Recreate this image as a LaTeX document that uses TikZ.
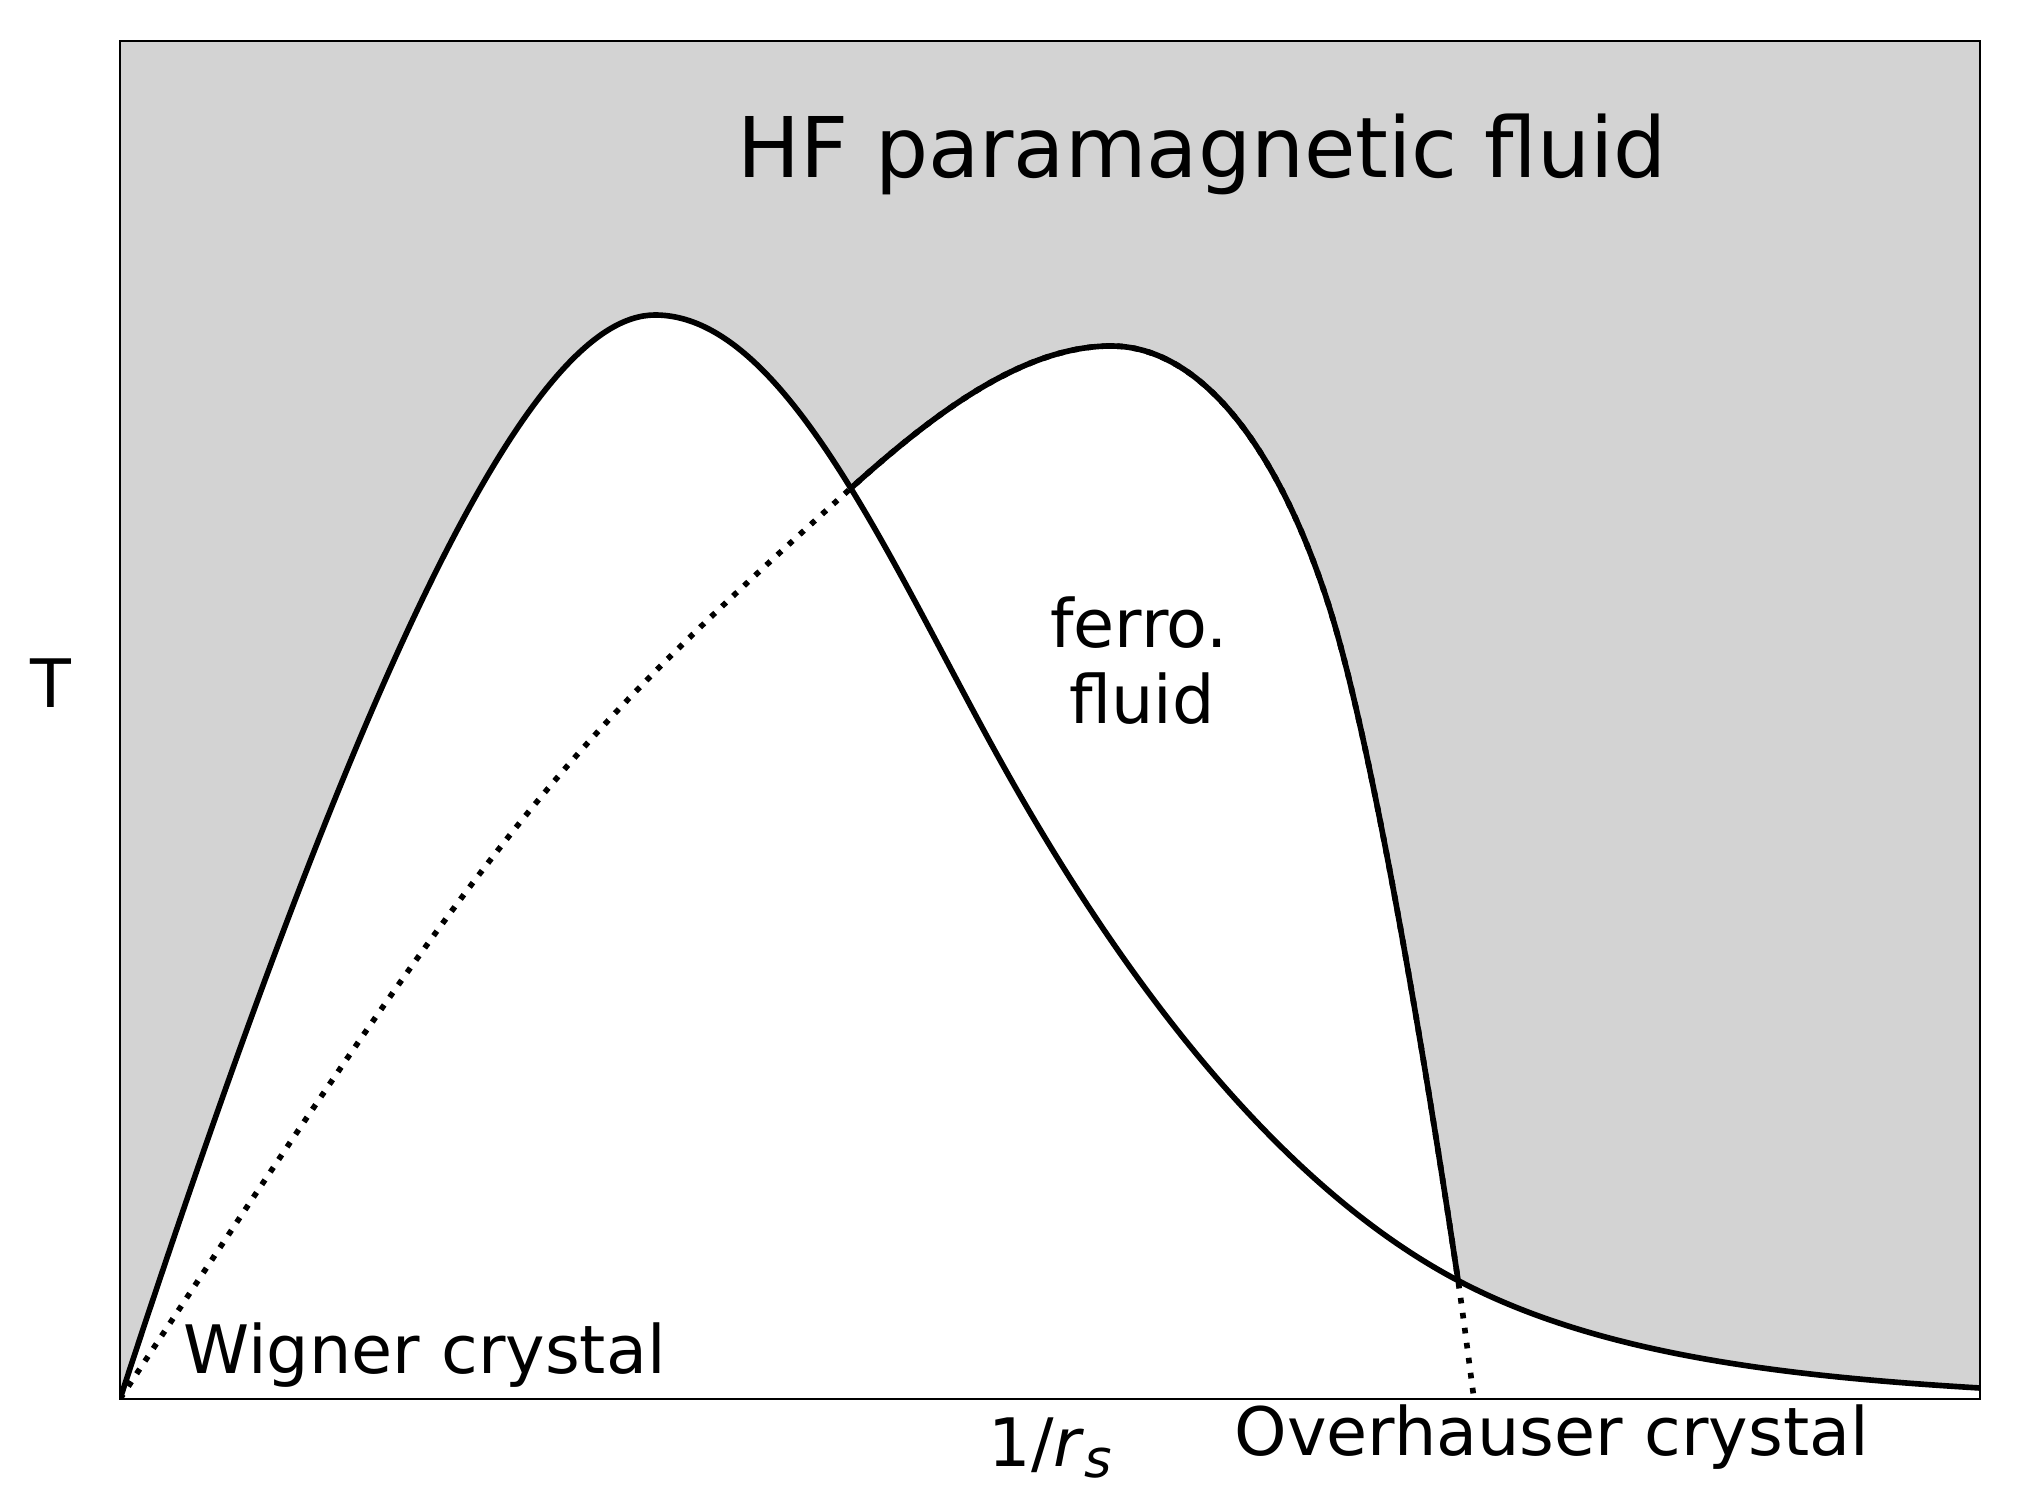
\documentclass[tikz,border=0pt]{standalone}
\usepackage{fontspec}
\setmainfont{DejaVu Sans}
\definecolor{fluidgray}{HTML}{D3D3D3}
\begin{document}
\begin{tikzpicture}[x=0.01cm,y=-0.01cm,
  curve/.style={line width=1.6pt, line join=round},
  dotline/.style={line width=1.6pt, dash pattern=on 1.6pt off 2.7pt},
  framebox/.style={line width=0.77pt},
  lbl/.style={inner sep=0pt, font=\fontsize{19}{22}\selectfont},
  biglbl/.style={inner sep=0pt, font=\fontsize{23.8}{28}\selectfont}]
\useasboundingbox (0,0) rectangle (2020,1512);
\fill[white] (0,0) rectangle (2020,1512);
\coordinate (fbl) at (120,1399);
\coordinate (ftr) at (1980,41);
\begin{scope}
\clip (fbl) rectangle (ftr);
\fill[fluidgray] (fbl) rectangle (ftr);
% region under the Wigner curve
\fill[white] (120,1399) .. controls (370,636) and (535,315) .. (655,315)
  .. controls (785,315) and (890,562) .. (1000,760)
  .. controls (1150,1030) and (1307,1200.5) .. (1457,1280)
  .. controls (1597,1354.2) and (1780,1376) .. (1980,1388)
  -- (1980,1399) -- cycle;
% region under the ferro curve
\fill[white] (120,1399) .. controls (500,821.4) and (550,759) .. (850,489)
  .. controls (930,417) and (1021,346) .. (1111,346)
  .. controls (1201,346) and (1278,448) .. (1328,603)
  .. controls (1368,727) and (1418,1012) .. (1458,1280)
  .. controls (1463,1313.5) and (1469,1362) .. (1474,1399) -- cycle;
% ferro curve, dotted where it is not a phase boundary
\draw[dotline] (120,1399) .. controls (500,821.4) and (550,759) .. (850,489)
  .. controls (930,417) and (1021,346) .. (1111,346)
  .. controls (1201,346) and (1278,448) .. (1328,603)
  .. controls (1368,727) and (1418,1012) .. (1458,1280)
  .. controls (1463,1313.5) and (1469,1362) .. (1474,1399);
% solid where it lies above the Wigner curve
\begin{scope}
\clip (120,1399) .. controls (370,636) and (535,315) .. (655,315)
  .. controls (785,315) and (890,562) .. (1000,760)
  .. controls (1150,1030) and (1307,1200.5) .. (1457,1280)
  .. controls (1597,1354.2) and (1780,1376) .. (1980,1388)
  -- (1980,0) -- (120,0) -- cycle;
\draw[curve] (120,1399) .. controls (500,821.4) and (550,759) .. (850,489)
  .. controls (930,417) and (1021,346) .. (1111,346)
  .. controls (1201,346) and (1278,448) .. (1328,603)
  .. controls (1368,727) and (1418,1012) .. (1458,1280)
  .. controls (1463,1313.5) and (1469,1362) .. (1474,1399);
\end{scope}
% Wigner curve
\draw[curve] (120,1399) .. controls (370,636) and (535,315) .. (655,315)
  .. controls (785,315) and (890,562) .. (1000,760)
  .. controls (1150,1030) and (1307,1200.5) .. (1457,1280)
  .. controls (1597,1354.2) and (1780,1376) .. (1980,1388);
\end{scope}
\draw[framebox] (fbl) rectangle (ftr);
% labels
\node[biglbl, anchor=base] (hf) at (1202,177) {HF paramagnetic fluid};
\node[lbl, anchor=base] (ferro) at (1139,647) {ferro.};
\node[lbl, anchor=base] (fluid) at (1142,723) {fluid};
\node[lbl, anchor=base west] (wigner) at (183,1373) {Wigner crystal};
\node[lbl, anchor=base west] (over) at (1234,1455) {Overhauser crystal};
\node[lbl, anchor=base west] (xlab) at (988,1466) {1/\textit{r}\raisebox{-0.17em}{\fontsize{15}{15}\selectfont\textit{s}}};
\node[lbl, anchor=base west] (ylab) at (30,707) {T};
\end{tikzpicture}
\end{document}
